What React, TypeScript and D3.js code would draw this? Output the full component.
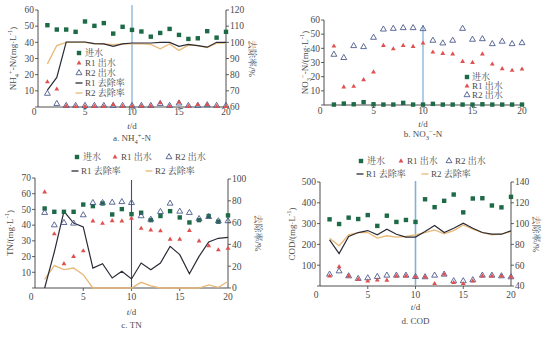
import React from 'react';
import * as d3 from 'd3';

const days = [1, 2, 3, 4, 5, 6, 7, 8, 9, 10, 11, 12, 13, 14, 15, 16, 17, 18, 19, 20];
const xTicks = [0, 5, 10, 15, 20];

// a. NH4+-N
const nh4In = [50.6, 47.9, 47.9, 46.5, 52.9, 50.2, 51.9, 45.4, 49.6, 47.7, 46.7, 43.5, 45.8, 48.3, 44.6, 42.1, 42.5, 46.9, 42.9, 46.5];
const nh4R1 = [15.5, 11, 0.5, 0.3, 0.3, 0.3, 0.3, 1.5, 0.3, 0.5, 0.5, 0.5, 2.5, 0.5, 2.8, 0.3, 1.5, 1.5, 0.3, 0.3];
const nh4R2 = [8.3, 2, 0.8, 0.8, 0.8, 0.8, 0.8, 0.8, 0.8, 0.8, 0.8, 0.8, 2, 0.8, 2.3, 0.8, 0.8, 1.2, 0.8, 0.8];
const nh4R1Rate = [70.4, 78.3, 100.2, 100.2, 100.2, 99.2, 99, 97.5, 99, 99.6, 99.6, 99.6, 100, 100, 97.5, 98.7, 98, 97, 100, 100];
const nh4R2Rate = [86.7, 98, 100, 100, 100, 99, 99, 98.5, 99, 99, 99, 98.7, 96, 99, 95, 98.3, 98, 96.7, 99.5, 99.5];

// b. NO3--N
const no3In = [0.3, 1, 0.5, 2, 0.5, 0.3, 0.3, 1.5, 0.3, 0.3, 0.8, 0.3, 0.3, 0.3, 0.3, 0.5, 0.3, 0.3, 0.3, 0.3];
const no3R1 = [41.5, 12.7, 13.1, 17.8, 23.2, 42, 39.6, 42, 41.2, 43.6, 37.3, 36.3, 35.9, 30.7, 30, 35.9, 28.8, 25.5, 24.4, 25.3];
const no3R2 = [35.6, 33.3, 41.7, 41, 47.6, 53.4, 53.9, 54.4, 54.4, 53.7, 45.5, 43.6, 45.5, 53.9, 46.2, 46.6, 43.1, 44.8, 43.1, 43.8];

// c. TN
const tnIn = [50.6, 48.5, 48.5, 48.5, 53.1, 52.1, 53.8, 46.8, 50.2, 47, 47.9, 43.2, 45.8, 48.9, 44.9, 41.7, 43.2, 45.8, 42.2, 46.2];
const tnR1 = [61, 34.4, 15.4, 20, 23.6, 42.6, 41.1, 42.8, 42.6, 44.3, 37.9, 36.9, 36.3, 31, 31, 36.5, 29.9, 26.8, 24.2, 25.3];
const tnR2 = [47.9, 40, 41.5, 41.1, 46.4, 54.2, 54.2, 54.4, 54.8, 54.2, 45.8, 43.6, 48.5, 53.8, 48.7, 47.9, 44, 45.3, 42.6, 42.6];
const tnR1Rate = [0, 33, 70.3, 59.6, 56, 18.3, 22.3, 9.2, 15.3, 8.3, 22.9, 16.8, 22.9, 38.2, 30.6, 13.1, 29, 42.2, 45.6, 46.5];
const tnR2Rate = [8, 20.5, 16.8, 18.3, 12.2, 0, 0, 0, 0, 0, 5.2, 2, 0, 0, 0, 0, 0, 2.8, 0.6, 6];

// d. COD
const codIn = [320.6, 298, 328.6, 322, 341, 289, 338, 308, 317.5, 308, 417, 379, 409.5, 439.7, 354, 420.6, 422, 387, 378, 428.6];
const codR1 = [47.6, 92, 47.6, 31.7, 23.8, 28.6, 27, 47.6, 47.6, 44.4, 42.9, 11, 55.6, 15.9, 11, 23.8, 47.6, 47.6, 47.6, 42.9];
const codR2 = [55.6, 71.4, 47.6, 35, 38, 44.4, 50.8, 50.8, 50.8, 44.4, 42.9, 50.8, 55.6, 23.8, 23.8, 28.6, 50.8, 50.8, 47.6, 42.9];
const codR1Rate = [84.4, 71.1, 87.6, 91.4, 93.3, 89.2, 94.6, 89.8, 87, 87, 92.4, 98.1, 91.4, 95.6, 100.3, 95.6, 91.4, 89.8, 89.8, 93];
const codR2Rate = [86, 78.7, 89.2, 91.4, 91.4, 86, 88.3, 87, 87.6, 89.2, 91.4, 94, 90.2, 93.3, 98.7, 94.6, 91.4, 89.2, 89.8, 92.4];

const legendNames = ['进水', 'R1 出水', 'R2 出水', 'R1 去除率', 'R2 去除率'];

const FONT = "'Liberation Serif','Noto Serif CJK SC','Noto Sans CJK SC',serif";
const C_IN = '#1d6a46';
const C_R1 = '#e0504f';
const C_R2 = '#4d5b8c';
const C_L1 = '#2b2b36';
const C_L2 = '#e8b877';
const C_AX = '#3a3a3a';
const C_TXT = '#4a4a4a';

const triSmall = d3.symbol().type(d3.symbolTriangle).size(10)();
const triBig = d3.symbol().type(d3.symbolTriangle).size(15)();

function Marker({ kind, x, y }: { kind: number; x: number; y: number }) {
  if (kind === 0) return <rect x={x - 2.2} y={y - 2.2} width={4.4} height={4.4} fill={C_IN} />;
  if (kind === 1) return <path d={triSmall || ''} transform={`translate(${x},${y})`} fill={C_R1} />;
  return <path d={triBig || ''} transform={`translate(${x},${y})`} fill="none" stroke={C_R2} strokeWidth={0.9} />;
}

type LegendItem = { kind: number; x: number; y: number; tx: number };

type PanelProps = {
  x0: number; x1: number; yB: number; yT: number;
  lDomain: [number, number]; lTicks: number[];
  rDomain?: [number, number]; rTicks?: number[]; rTop?: number;
  inflow: number[]; r1: number[]; r2: number[];
  r1Rate?: number[]; r2Rate?: number[];
  vTop: number; vColor: string; vWidth: number;
  yLabel: React.ReactNode; yLabelX: number;
  rLabelX?: number;
  tickY: number; tdY: number; subY: number; subtitle: React.ReactNode;
  legend: LegendItem[];
};

function Panel(p: PanelProps) {
  const x = d3.scaleLinear().domain([0, 20]).range([p.x0, p.x1]);
  const yL = d3.scaleLinear().domain(p.lDomain).range([p.yB, p.yT]);
  const yR = p.rDomain ? d3.scaleLinear().domain(p.rDomain).range([p.yB, p.rTop ?? p.yT]) : null;
  const line = (vals: number[]) =>
    d3.line<number>().x((_, i) => x(days[i])).y((v) => (yR ? yR(v) : 0))(vals) || '';
  const midY = (p.yB + p.yT) / 2;
  const midX = (p.x0 + p.x1) / 2;
  return (
    <g fontFamily={FONT}>
      <line x1={p.x0} x2={p.x0} y1={p.yB} y2={p.yT} stroke={C_AX} strokeWidth={0.9} />
      <line x1={p.x0} x2={p.x1} y1={p.yB} y2={p.yB} stroke={C_AX} strokeWidth={0.9} />
      {yR && <line x1={p.x1} x2={p.x1} y1={p.yB} y2={p.rTop ?? p.yT} stroke={C_AX} strokeWidth={0.9} />}
      {p.lTicks.map((t) => (
        <g key={'l' + t}>
          <line x1={p.x0 - 3} x2={p.x0} y1={yL(t)} y2={yL(t)} stroke={C_AX} strokeWidth={0.8} />
          {t !== 0 && (
            <text x={p.x0 - 4} y={yL(t) + 3.3} fontSize={9.5} textAnchor="end" fill={C_TXT}>{t}</text>
          )}
        </g>
      ))}
      {yR && p.rTicks && p.rTicks.map((t) => (
        <g key={'r' + t}>
          <line x1={p.x1} x2={p.x1 + 3} y1={yR(t)} y2={yR(t)} stroke={C_AX} strokeWidth={0.8} />
          <text x={p.x1 + 4} y={yR(t) + 3.3} fontSize={9.5} textAnchor="start" fill={C_TXT}>{t}</text>
        </g>
      ))}
      {xTicks.map((t) => (
        <g key={'x' + t}>
          {t !== 0 && t !== 20 && <line x1={x(t)} x2={x(t)} y1={p.yB} y2={p.yB + 3} stroke={C_AX} strokeWidth={0.8} />}
          <text x={t === 0 ? x(t) - 4 : x(t)} y={p.tickY + 3.3} fontSize={9.5} textAnchor="middle" fill={C_TXT}>{t}</text>
        </g>
      ))}
      <text x={midX} y={p.tdY + 3.3} fontSize={9} textAnchor="middle" fill={C_TXT}>
        <tspan fontStyle="italic">t</tspan>/d
      </text>
      <text x={midX} y={p.subY + 3.3} fontSize={9} textAnchor="middle" fill={C_TXT}>{p.subtitle}</text>
      <text transform={`translate(${p.yLabelX},${midY}) rotate(-90)`} fontSize={9} textAnchor="middle" fill={C_TXT}>
        {p.yLabel}
      </text>
      {yR && p.rLabelX !== undefined && (
        <text transform={`translate(${p.rLabelX},${midY}) rotate(90)`} fontSize={9} textAnchor="middle" fill={C_TXT}>
          去除率/%
        </text>
      )}
      <line x1={x(10)} x2={x(10)} y1={p.vTop} y2={p.yB} stroke={p.vColor} strokeWidth={p.vWidth} />
      {yR && p.r2Rate && <path d={line(p.r2Rate)} fill="none" stroke={C_L2} strokeWidth={1.3} />}
      {yR && p.r1Rate && <path d={line(p.r1Rate)} fill="none" stroke={C_L1} strokeWidth={1.2} />}
      {p.inflow.map((v, i) => <Marker key={'i' + i} kind={0} x={x(days[i])} y={yL(v)} />)}
      {p.r2.map((v, i) => <Marker key={'b' + i} kind={2} x={x(days[i])} y={yL(v)} />)}
      {p.r1.map((v, i) => <Marker key={'a' + i} kind={1} x={x(days[i])} y={yL(v)} />)}
      {p.legend.map((it, i) => (
        <g key={'lg' + i}>
          {it.kind <= 2 ? (
            <Marker kind={it.kind} x={it.x} y={it.y} />
          ) : (
            <line x1={it.x - 3.5} x2={it.x + 3.5} y1={it.y} y2={it.y} stroke={it.kind === 3 ? C_L1 : C_L2} strokeWidth={1.3} />
          )}
          <text x={it.tx} y={it.y + 3.3} fontSize={9} fill={C_TXT}>{legendNames[it.kind]}</text>
        </g>
      ))}
    </g>
  );
}

export default function App() {
  return (
    <svg width={550} height={344} style={{ position: 'absolute', left: 0, top: 0, background: '#fff' }}>
      <rect width={550} height={344} fill="#fff" />
      <Panel
        x0={38} x1={226} yB={107} yT={10}
        lDomain={[0, 60]} lTicks={[0, 10, 20, 30, 40, 50, 60]}
        rDomain={[60, 120]} rTicks={[60, 70, 80, 90, 100, 110, 120]}
        inflow={nh4In} r1={nh4R1} r2={nh4R2} r1Rate={nh4R1Rate} r2Rate={nh4R2Rate}
        vTop={5} vColor="#6ea6cc" vWidth={1.1}
        yLabel={<>NH<tspan fontSize={6.5} dy={2.5}>4</tspan><tspan fontSize={6.5} dy={-6}>+</tspan><tspan dy={3.5}>-N/(mg·L</tspan><tspan fontSize={6.5} dy={-4}>-1</tspan><tspan dy={4}>)</tspan></>}
        yLabelX={16} rLabelX={249}
        tickY={112} tdY={126} subY={138}
        subtitle={<>a. NH<tspan fontSize={6.5} dy={2.5}>4</tspan><tspan fontSize={6.5} dy={-6}>+</tspan><tspan dy={3.5}>-N</tspan></>}
        legend={[
          { kind: 0, x: 79, y: 53, tx: 85 },
          { kind: 1, x: 79, y: 63, tx: 85 },
          { kind: 2, x: 79, y: 73, tx: 85 },
          { kind: 3, x: 79, y: 83, tx: 85 },
          { kind: 4, x: 79, y: 93, tx: 85 },
        ]}
      />
      <Panel
        x0={324} x1={522} yB={105} yT={20}
        lDomain={[0, 60]} lTicks={[0, 10, 20, 30, 40, 50, 60]}
        inflow={no3In} r1={no3R1} r2={no3R2}
        vTop={25} vColor="#6ea6cc" vWidth={1.1}
        yLabel={<>NO<tspan fontSize={6.5} dy={2.5}>3</tspan><tspan fontSize={6.5} dy={-6}>−</tspan><tspan dy={3.5}>-N/(mg·L</tspan><tspan fontSize={6.5} dy={-4}>-1</tspan><tspan dy={4}>)</tspan></>}
        yLabelX={308}
        tickY={111} tdY={124} subY={134}
        subtitle={<>b. NO<tspan fontSize={6.5} dy={2.5}>3</tspan><tspan fontSize={6.5} dy={-6}>−</tspan><tspan dy={3.5}>-N</tspan></>}
        legend={[
          { kind: 0, x: 467, y: 77, tx: 472 },
          { kind: 1, x: 467, y: 86, tx: 472 },
          { kind: 2, x: 467, y: 95, tx: 472 },
        ]}
      />
      <Panel
        x0={35} x1={228} yB={288} yT={178}
        lDomain={[0, 70]} lTicks={[0, 10, 20, 30, 40, 50, 60, 70]}
        rDomain={[0, 100]} rTicks={[0, 20, 40, 60, 80, 100]} rTop={179}
        inflow={tnIn} r1={tnR1} r2={tnR2} r1Rate={tnR1Rate} r2Rate={tnR2Rate}
        vTop={180} vColor="#2e5590" vWidth={1.1}
        yLabel={<>TN/(mg·L<tspan fontSize={6.5} dy={-4}>-1</tspan><tspan dy={4}>)</tspan></>}
        yLabelX={13} rLabelX={255}
        tickY={297} tdY={312} subY={325}
        subtitle={<>c. TN</>}
        legend={[
          { kind: 0, x: 77, y: 157, tx: 83 },
          { kind: 1, x: 115, y: 157, tx: 121 },
          { kind: 2, x: 169, y: 157, tx: 175 },
          { kind: 3, x: 75, y: 171, tx: 81 },
          { kind: 4, x: 149, y: 171, tx: 155 },
        ]}
      />
      <Panel
        x0={320} x1={511} yB={286} yT={182}
        lDomain={[0, 500]} lTicks={[0, 100, 200, 300, 400, 500]}
        rDomain={[40, 140]} rTicks={[40, 60, 80, 100, 120, 140]}
        inflow={codIn} r1={codR1} r2={codR2} r1Rate={codR1Rate} r2Rate={codR2Rate}
        vTop={181} vColor="#7fb2d4" vWidth={1.6}
        yLabel={<>COD/(mg·L<tspan fontSize={6.5} dy={-4}>-1</tspan><tspan dy={4}>)</tspan></>}
        yLabelX={295} rLabelX={533}
        tickY={295} tdY={307} subY={321}
        subtitle={<>d. COD</>}
        legend={[
          { kind: 0, x: 361, y: 161, tx: 367 },
          { kind: 1, x: 401, y: 161, tx: 407 },
          { kind: 2, x: 449, y: 161, tx: 455 },
          { kind: 3, x: 360, y: 174, tx: 366 },
          { kind: 4, x: 425, y: 174, tx: 431 },
        ]}
      />
    </svg>
  );
}
